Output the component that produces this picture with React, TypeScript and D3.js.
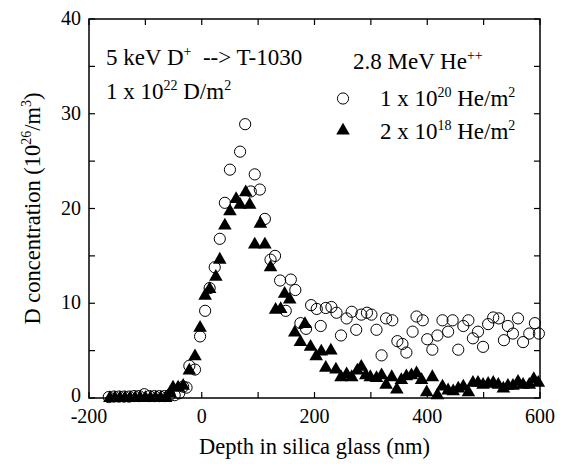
import React from "react";
import * as d3 from "d3";

// depth (nm) and D concentration (10^26/m^3)
const heDepth1e20 = [-165, -156, -147, -138, -129, -120, -111, -102, -93, -84, -75, -66, -57, -48, -40, -33, -27, -22, -12, -3, 6, 14, 23, 32, 41, 50, 68, 77, 87, 94, 103, 112, 122, 130, 139, 149, 158, 166, 175, 185, 194, 204, 211, 220, 230, 239, 247, 257, 266, 274, 283, 293, 301, 310, 319, 327, 338, 347, 356, 363, 374, 381, 392, 400, 409, 418, 427, 437, 445, 455, 464, 473, 481, 490, 499, 508, 517, 527, 536, 543, 552, 561, 570, 581, 591, 598];
const heConc1e20 = [0.1, 0.15, 0.15, 0.15, 0.15, 0.2, 0.2, 0.4, 0.2, 0.2, 0.2, 0.2, 0.3, 0.3, 0.5, 1.2, 1.1, 3.4, 3.0, 6.5, 9.2, 11.6, 13.8, 16.8, 20.6, 24.1, 26.0, 28.9, 21.8, 23.6, 22.0, 18.9, 14.6, 15.0, 12.4, 9.2, 12.5, 11.4, 7.9, 7.3, 9.8, 9.4, 7.6, 9.5, 9.6, 9.0, 6.6, 8.4, 9.1, 7.2, 8.8, 9.0, 8.8, 7.2, 4.5, 8.4, 8.2, 6.0, 5.7, 4.8, 7.0, 8.6, 8.2, 6.2, 5.1, 6.6, 8.2, 7.0, 8.2, 5.1, 7.6, 8.2, 6.3, 7.0, 5.4, 7.8, 8.5, 8.4, 6.1, 7.6, 6.8, 8.4, 5.9, 6.8, 7.9, 6.8];

const heDepth2e18 = [-163, -154, -145, -136, -127, -118, -109, -100, -91, -82, -73, -64, -56, -51, -42, -33, -22, -12, -3, 6, 14, 25, 32, 41, 50, 61, 68, 78, 85, 94, 104, 112, 122, 131, 140, 147, 156, 165, 175, 183, 193, 203, 212, 220, 229, 238, 247, 257, 266, 276, 283, 291, 299, 310, 319, 327, 337, 346, 354, 363, 372, 381, 390, 399, 409, 418, 427, 437, 446, 455, 464, 473, 481, 490, 499, 508, 517, 526, 535, 543, 552, 561, 570, 581, 589, 597];
const heConc2e18 = [0.1, 0.1, 0.1, 0.1, 0.1, 0.1, 0.1, 0.1, 0.1, 0.1, 0.1, 0.1, 0.6, 1.2, 1.2, 1.4, 3.0, 4.5, 7.5, 10.9, 11.6, 12.9, 14.7, 18.3, 19.8, 21.1, 20.5, 21.8, 20.5, 16.3, 18.5, 16.3, 13.9, 9.4, 9.5, 11.1, 10.5, 7.0, 6.0, 7.9, 5.5, 4.5, 5.0, 3.3, 5.1, 3.1, 2.3, 2.6, 2.3, 3.0, 3.4, 2.5, 2.3, 2.2, 2.5, 1.5, 2.3, 1.0, 2.0, 2.4, 2.5, 2.7, 2.0, 0.7, 2.3, 0.4, 1.3, 0.9, 0.8, 1.1, 1.3, 0.7, 1.7, 1.7, 1.5, 1.6, 1.7, 1.5, 1.1, 1.4, 1.4, 1.8, 1.5, 1.5, 2.1, 1.7];

const xTicks = [-200, 0, 200, 400, 600];
const xMinor = [-100, 100, 300, 500];
const yTicks = [0, 10, 20, 30, 40];
const yMinor = [5, 15, 25, 35];

const W = 566, H = 464;
const margin = { top: 19, right: 26, bottom: 66, left: 89 };
const serif = "'Liberation Serif', 'Times New Roman', Times, serif";
const tickTxt = { fontFamily: serif, fontSize: 20 };
const titleTxt = { fontFamily: serif, fontSize: 22.5 };
const noteTxt = { fontFamily: serif, fontSize: 23 };

// superscript helper: raised small text, then back to baseline
const Sup = ({ s, size = 14, up = 9 }: { s: string; size?: number; up?: number }) => (
  <tspan fontSize={size} dy={-up}>{s}</tspan>
);

export default function App() {
  const w = W - margin.left - margin.right;
  const h = H - margin.top - margin.bottom;
  const x = d3.scaleLinear().domain([-200, 600]).range([0, w]);
  const y = d3.scaleLinear().domain([0, 40]).range([h, 0]);
  const tri = d3.symbol().type(d3.symbolTriangle).size(80)() as string;
  const r = 5.6;
  const tl = 6;

  const circles = heDepth1e20.map((d, i) => ({ d, v: heConc1e20[i] }));
  const triangles = heDepth2e18.map((d, i) => ({ d, v: heConc2e18[i] }));

  return (
    <svg width={W} height={H} style={{ position: "absolute", left: 0, top: 0, background: "#fff" }}>
      <g transform={`translate(${margin.left},${margin.top})`}>
        {/* data */}
        {circles.map((p, i) => (
          <circle key={"c" + i} cx={x(p.d)} cy={y(p.v)} r={r} fill="none" stroke="#000" strokeWidth={1} />
        ))}
        {triangles.map((p, i) => (
          <path key={"t" + i} d={tri} transform={`translate(${x(p.d)},${y(p.v) + 1})`} fill="#000" />
        ))}

        {/* frame */}
        <rect x={0} y={0} width={w} height={h} fill="none" stroke="#000" strokeWidth={1.5} />

        {/* ticks, pointing inward */}
        {[...xTicks, ...xMinor].map(t => (
          <g key={"xt" + t}>
            <line x1={x(t)} x2={x(t)} y1={h} y2={h - tl} stroke="#000" strokeWidth={1.2} />
            <line x1={x(t)} x2={x(t)} y1={0} y2={tl} stroke="#000" strokeWidth={1.2} />
          </g>
        ))}
        {[...yTicks, ...yMinor].map(t => (
          <g key={"yt" + t}>
            <line x1={0} x2={tl} y1={y(t)} y2={y(t)} stroke="#000" strokeWidth={1.2} />
            <line x1={w - tl} x2={w} y1={y(t)} y2={y(t)} stroke="#000" strokeWidth={1.2} />
          </g>
        ))}

        {/* tick labels */}
        {xTicks.map(t => (
          <text key={"xl" + t} x={x(t)} y={h + 24.5} textAnchor="middle" style={tickTxt}>{t}</text>
        ))}
        {yTicks.map(t => (
          <text key={"yl" + t} x={-8} y={y(t) + (t === 0 ? 4 : 6)} textAnchor="end" style={tickTxt}>{t}</text>
        ))}

        {/* axis titles */}
        <text x={w / 2} y={h + 56} textAnchor="middle" style={titleTxt}>Depth in silica glass (nm)</text>
        <text transform={`translate(${-margin.left + 40},${h / 2}) rotate(-90)`} textAnchor="middle" style={titleTxt}>
          D concentration (10<Sup s="26" /><tspan dy={9}>/m</tspan><Sup s="3" /><tspan dy={9}>)</tspan>
        </text>

        {/* annotations */}
        <text x={17} y={46} style={noteTxt}>
          5 keV D<Sup s="+" /><tspan dy={9} xmlSpace="preserve">  --&gt; T-1030</tspan>
        </text>
        <text x={17} y={80} style={noteTxt}>
          1 x 10<Sup s="22" /><tspan dy={9}> D/m</tspan><Sup s="2" />
        </text>
        <text x={264} y={50} style={noteTxt}>
          2.8 MeV He<Sup s="++" />
        </text>
        <circle cx={254} cy={79.5} r={r} fill="none" stroke="#000" strokeWidth={1} />
        <text x={291} y={87} style={noteTxt}>
          1 x 10<Sup s="20" /><tspan dy={9}> He/m</tspan><Sup s="2" />
        </text>
        <path d={tri} transform={`translate(254,111.5)`} fill="#000" />
        <text x={291} y={120} style={noteTxt}>
          2 x 10<Sup s="18" /><tspan dy={9}> He/m</tspan><Sup s="2" />
        </text>
      </g>
    </svg>
  );
}
